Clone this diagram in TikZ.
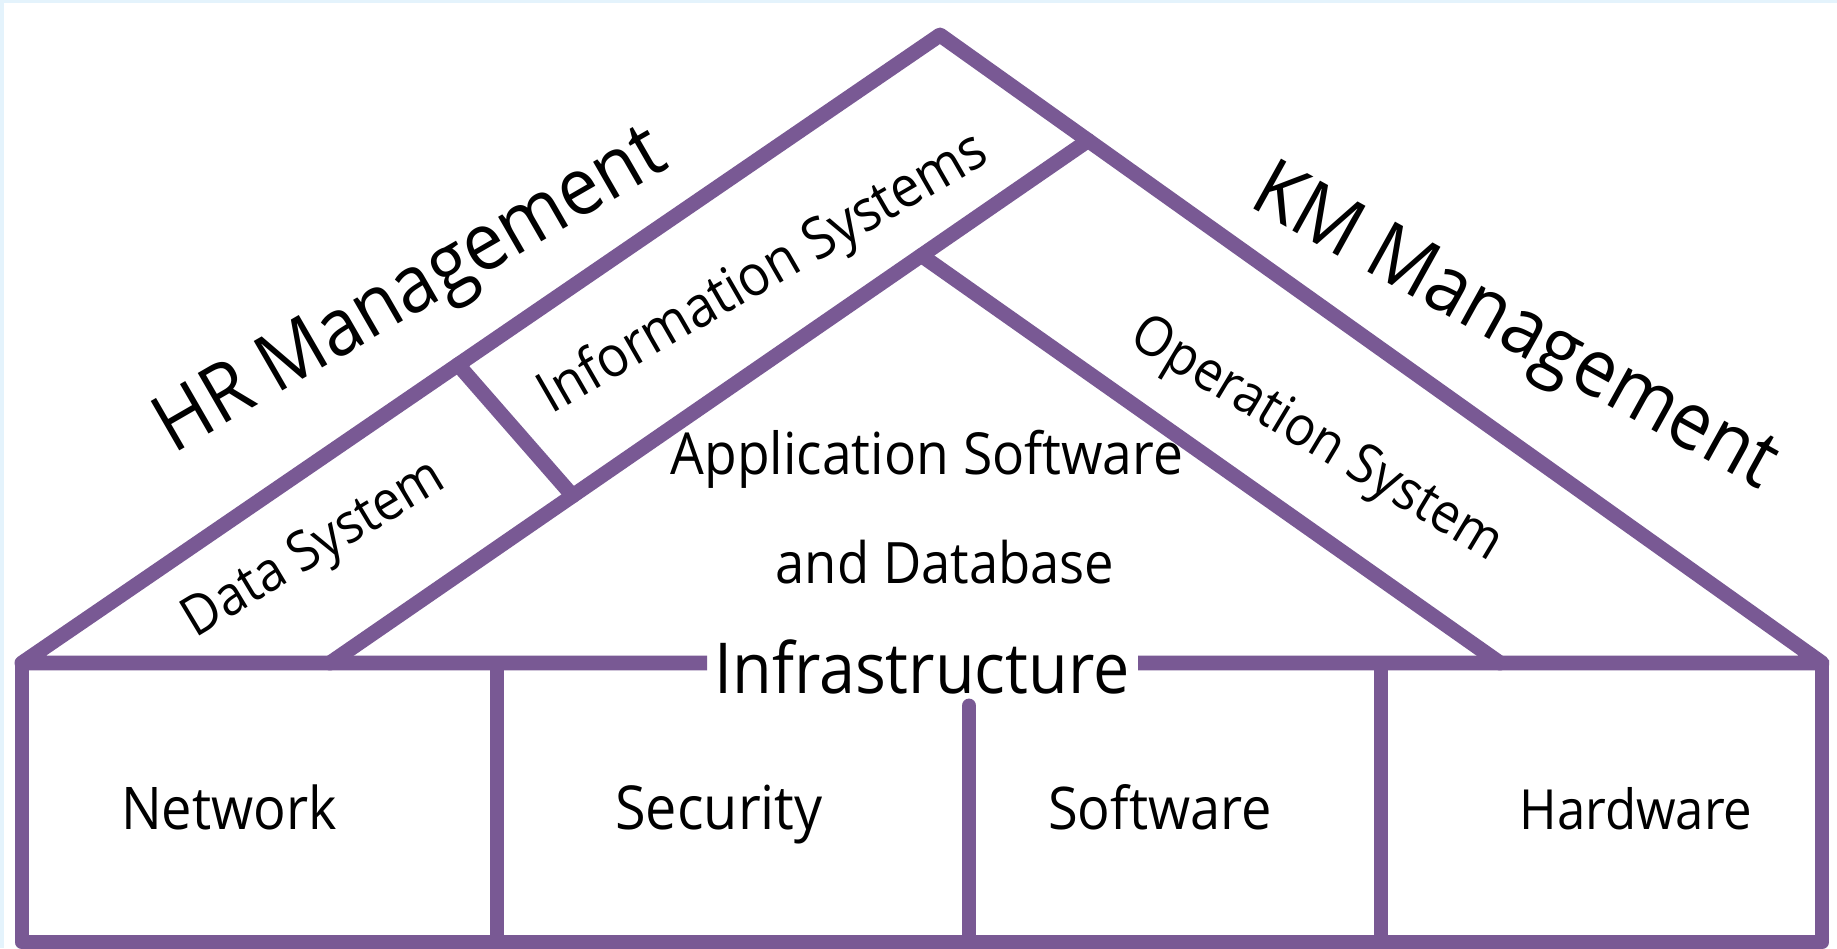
\documentclass[tikz,border=0pt]{standalone}
\usepackage{fontspec}
\setmainfont{Open Sans}[FakeStretch=0.92]
\usetikzlibrary{calc}
\definecolor{roofline}{RGB}{121,89,148}
\definecolor{pagebg}{RGB}{228,243,252}

\begin{document}
\begin{tikzpicture}[x=0.02cm,y=-0.02cm,
  wall/.style={draw=roofline, line width=8.5pt, line join=round},
  lbl/.style={inner sep=0pt, text=black},
  fsz/.style={font=\fontsize{#1}{#1}\selectfont}]

% page
\fill[pagebg] (0,0) rectangle (1837,948);
\fill[white] (4,3) rectangle (1837,948);
\useasboundingbox (0,0) rectangle (1837,948);

% key points of the house
\coordinate (A) at (940,35);
\coordinate (L) at (22,663);
\coordinate (R) at (1822,663);
\coordinate (P) at ($(A)!0.168!(R)$);
\coordinate (Q) at (330,663);
\coordinate (I) at ($(P)!0.22!(Q)$);
\coordinate (S) at (1500,663);
\coordinate (D1) at ($(A)!0.525!(L)$);
\coordinate (D2) at ($(P)!0.68!(Q)$);
\coordinate (G1) at (707,663);
\coordinate (G2) at (1138,663);
\coordinate (BL) at (22,942);
\coordinate (BR) at (1822,942);
\coordinate (V1t) at (497,663);  \coordinate (V1b) at (497,942);
\coordinate (V2t) at (969,706);  \coordinate (V2b) at (969,942);
\coordinate (V3t) at (1381,663); \coordinate (V3b) at (1381,942);

% roof and inner layers
\draw[wall, line cap=butt] (G1) -- (L) -- (A) -- (R) -- (G2);
\draw[wall, line cap=round] (P) -- (Q);
\draw[wall, line cap=round] (I) -- (S);
\draw[wall, line cap=round] (D1) -- (D2);

% infrastructure block
\draw[wall, line cap=butt] (L) -- (BL) -- (BR) -- (R);
\draw[wall, line cap=butt] (V1t) -- (V1b);
\draw[wall, line cap=round] (V2t) -- (V2b);
\draw[wall, line cap=butt] (V3t) -- (V3b);

% labels along the roof
\node[lbl, fsz=45.5pt, rotate=30] (hr) at (413,294) {HR Management};
\node[lbl, fsz=45.5pt, rotate=-29] (km) at (1513,331) {KM Management};
\node[lbl, fsz=32.5pt, rotate=30] (info) at (764,275) {Information Systems};
\node[lbl, fsz=31.3pt, rotate=31] (data) at (315,551) {Data System};
\node[lbl, fsz=31.3pt, rotate=-31] (ops) at (1316,441) {Operation System};
\node[lbl, fsz=33pt, anchor=base] (app) at (927,474) {Application Software};
\node[lbl, fsz=32.5pt, anchor=base] (db) at (945,583) {and Database};
\node[lbl, fsz=40pt, anchor=base] (infra) at (922,693) {Infrastructure};

% infrastructure parts
\node[lbl, fsz=33.5pt, anchor=base] (net) at (229,829) {Network};
\node[lbl, fsz=34.5pt, anchor=base] (sec) at (719,829) {Security};
\node[lbl, fsz=33.5pt, anchor=base] (sw) at (1160,829) {Software};
\node[lbl, fsz=31.5pt, anchor=base] (hw) at (1636,829) {Hardware};
\end{tikzpicture}
\end{document}
